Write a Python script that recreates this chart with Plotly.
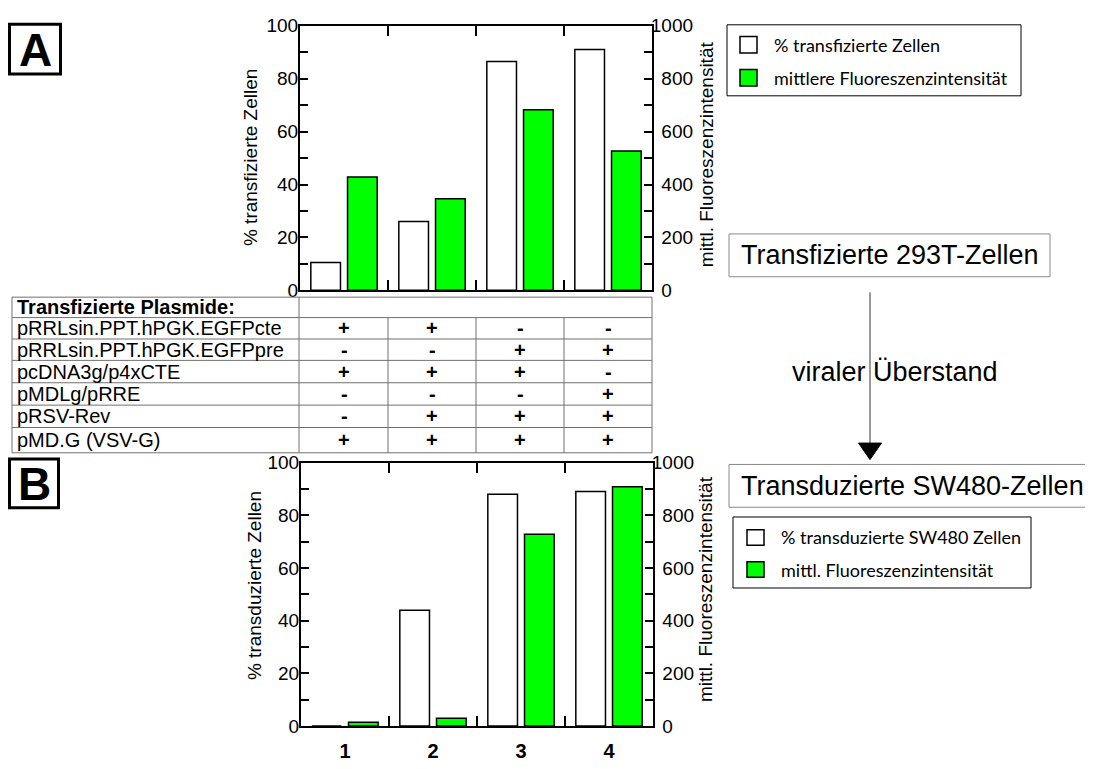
import plotly.graph_objects as go

W, H = 1093, 769
OX, OY = 8, 8          # page offset of the figure (default body margin)
FONT = "Liberation Sans"
LEG_FONT = "Lato"

# ---------------- data ----------------
categories = [1, 2, 3, 4]
category_labels = ["1", "2", "3", "4"]
transfected_pct = [10.5, 26, 86.5, 91]        # % transfizierte Zellen
transfected_mfi = [428, 346, 683, 527]        # mittlere Fluoreszenzintensität
transduced_pct = [0, 44, 88, 89]              # % transduzierte SW480 Zellen
transduced_mfi = [15, 30, 728, 908]           # mittl. Fluoreszenzintensität

pct_ticks = [0, 20, 40, 60, 80, 100]
mfi_ticks = [0, 200, 400, 600, 800, 1000]
mfi_ticktext = ["\u20070", "\u2007200", "\u2007400", "\u2007600", "\u2007800", "1000"]

plasmids = ["pRRLsin.PPT.hPGK.EGFPcte", "pRRLsin.PPT.hPGK.EGFPpre", "pcDNA3g/p4xCTE",
            "pMDLg/pRRE", "pRSV-Rev", "pMD.G (VSV-G)"]
signs = [["+", "+", "-", "-"],
         ["-", "-", "+", "+"],
         ["+", "+", "+", "-"],
         ["-", "-", "-", "+"],
         ["-", "+", "+", "+"],
         ["+", "+", "+", "+"]]

GREEN = "#00ff00"


def px(x):
    return (x - OX) / W


def py(y):
    return 1 - (y - OY) / H


BAR_W = 0.337
OFF_WHITE = -0.377
OFF_GREEN = 0.04

fig = go.Figure()
fig.add_trace(go.Bar(x=categories, y=transfected_pct, xaxis="x", yaxis="y", width=BAR_W, offset=OFF_WHITE,
                     marker=dict(color="white", line=dict(color="black", width=1.5)), name="% transfizierte Zellen"))
fig.add_trace(go.Bar(x=categories, y=transfected_mfi, xaxis="x", yaxis="y2", width=BAR_W, offset=OFF_GREEN,
                     marker=dict(color=GREEN, line=dict(color="black", width=1.5)), name="mittlere Fluoreszenzintensität"))
fig.add_trace(go.Bar(x=categories, y=transduced_pct, xaxis="x2", yaxis="y3", width=BAR_W, offset=OFF_WHITE,
                     marker=dict(color="white", line=dict(color="black", width=1.5)), name="% transduzierte SW480 Zellen"))
fig.add_trace(go.Bar(x=categories, y=transduced_mfi, xaxis="x2", yaxis="y4", width=BAR_W, offset=OFF_GREEN,
                     marker=dict(color=GREEN, line=dict(color="black", width=1.5)), name="mittl. Fluoreszenzintensität"))

tickfont = dict(family=FONT, size=19, color="black")
common_y = dict(ticks="inside", ticklen=8, tickwidth=1.5, tickcolor="black", showline=True, linecolor="black",
                linewidth=2, showgrid=False, zeroline=False, tickfont=tickfont, fixedrange=True)
minor_pct = dict(dtick=10, tick0=0, ticks="inside", ticklen=8, tickwidth=1.5, tickcolor="black")
minor_mfi = dict(dtick=100, tick0=0, ticks="inside", ticklen=8, tickwidth=1.5, tickcolor="black")

TOP_Y = (16, 288)
BOT_Y = (465, 736)

layout_axes = dict(
    xaxis=dict(domain=[px(300), px(652)], range=[0.5, 4.5], anchor="y", tickmode="array",
               tickvals=[1.5, 2.5, 3.5], ticks="inside", ticklen=10, tickwidth=1.5, tickcolor="black",
               mirror="ticks", showline=True, linecolor="black", linewidth=2, showticklabels=False,
               showgrid=False, zeroline=False, fixedrange=True),
    yaxis=dict(domain=[py(TOP_Y[1]), py(TOP_Y[0])], range=[0, 100], anchor="x", tickmode="array",
               tickvals=pct_ticks, minor=minor_pct, ticklabelstandoff=-4, **common_y),
    yaxis2=dict(overlaying="y", side="right", anchor="x", range=[0, 1000], tickmode="array",
                tickvals=mfi_ticks, ticktext=mfi_ticktext, minor=minor_mfi, ticklabelstandoff=-7, **common_y),
    xaxis2=dict(domain=[px(301), px(653)], range=[0.5, 4.5], anchor="y3", tickmode="array",
                tickvals=categories, ticktext=["<b>%s</b>" % c for c in category_labels], ticks="",
                minor=dict(tickmode="array", tickvals=[1.5, 2.5, 3.5], ticks="inside", ticklen=10,
                           tickwidth=1.5, tickcolor="black"),
                mirror="ticks", showline=True, linecolor="black", linewidth=2,
                tickfont=dict(family=FONT, size=20, color="black"), ticklabelstandoff=6,
                showgrid=False, zeroline=False, fixedrange=True),
    yaxis3=dict(domain=[py(BOT_Y[1]), py(BOT_Y[0])], range=[0, 100], anchor="x2", tickmode="array",
                tickvals=pct_ticks, minor=minor_pct, ticklabelstandoff=-4, **common_y),
    yaxis4=dict(overlaying="y3", side="right", anchor="x2", range=[0, 1000], tickmode="array",
                tickvals=mfi_ticks, ticktext=mfi_ticktext, minor=minor_mfi, ticklabelstandoff=-7, **common_y),
)

shapes = []
annotations = []


def text(x, y, s, size, bold=False, anchor="center", family=FONT, angle=0, xref="paper", color="black"):
    annotations.append(dict(x=px(x) if xref == "paper" else x, y=py(y), xref=xref, yref="paper",
                            text="<b>%s</b>" % s if bold else s, showarrow=False, xanchor=anchor,
                            yanchor="middle", textangle=angle,
                            font=dict(family=family, size=size, color=color)))


def rect(x0, y0, x1, y1, color="black", width=1, fill="rgba(0,0,0,0)"):
    shapes.append(dict(type="rect", xref="paper", yref="paper", x0=px(x0), x1=px(x1), y0=py(y0), y1=py(y1),
                       line=dict(color=color, width=width), fillcolor=fill))


def line(x0, y0, x1, y1, color="black", width=1, xref="paper"):
    shapes.append(dict(type="line", xref=xref, yref="paper",
                       x0=px(x0) if xref == "paper" else x0, x1=px(x1) if xref == "paper" else x1,
                       y0=py(y0), y1=py(y1), line=dict(color=color, width=width)))


# panel letters
rect(9.5, 14.5, 60.5, 65.5, width=3)
text(35, 41, "A", 46, bold=True)
rect(9.5, 461.5, 58.5, 511.5, width=3)
text(34, 487, "B", 46, bold=True)

# axis titles
text(250, 152, "% transfizierte Zellen", 19, angle=-90)
text(706, 148, "mittl. Fluoreszenzintensität", 19, angle=-90)
text(254, 592, "% transduzierte Zellen", 19, angle=-90)
text(706, 595, "mittl. Fluoreszenzintensität", 19, angle=-90)

# legends (manual boxes)
rect(727, 15, 1021, 88)
rect(740, 27, 757, 44, width=1.5, fill="white")
rect(740, 61, 757, 78, width=1.5, fill=GREEN)
text(772, 36, "% transfizierte Zellen", 18, anchor="left", family=LEG_FONT)
text(772, 70, "mittlere Fluoreszenzintensität", 18, anchor="left", family=LEG_FONT)

rect(733, 521, 1031, 594)
rect(747, 534, 764, 550, width=1.5, fill="white")
rect(747, 567, 764, 583, width=1.5, fill=GREEN)
text(779, 542, "% transduzierte SW480 Zellen", 18, anchor="left", family=LEG_FONT)
text(779, 576, "mittl. Fluoreszenzintensität", 18, anchor="left", family=LEG_FONT)

# cell boxes and arrow
rect(729, 230, 1050, 274, color="#8a8a8a")
text(739, 252, "Transfizierte 293T-Zellen", 27, anchor="left")
rect(729, 467, 1090, 511, color="#8a8a8a")
text(739, 489, "Transduzierte SW480-Zellen", 27, anchor="left")
line(870, 290, 870, 446, color="#333333", width=1)
shapes.append(dict(type="path", xref="paper", yref="paper",
                   path="M %f %f L %f %f L %f %f Z" % (px(858.5), py(445), px(881.5), py(445), px(870), py(462)),
                   fillcolor="black", line=dict(color="black", width=1)))
text(790, 372, "viraler Überstand", 27, anchor="left")

# table
TBL_L, TBL_R, TBL_DIV = 12, 652, 299
row_edges = [295, 316, 338, 360, 383, 406, 429, 455]
GRID = "#707070"
for yy in row_edges:
    line(TBL_L, yy, TBL_R, yy, color=GRID)
for xx in (TBL_L, TBL_DIV, TBL_R):
    line(xx, row_edges[0], xx, row_edges[-1], color=GRID)
for xv in (1.5, 2.5, 3.5):
    line(xv, row_edges[1], xv, row_edges[-1], color=GRID, xref="x")

text(15, (row_edges[0] + row_edges[1]) / 2, "Transfizierte Plasmide:", 20, bold=True, anchor="left")
for i, name in enumerate(plasmids):
    yc = (row_edges[i + 1] + row_edges[i + 2]) / 2
    text(15, yc, name, 20, anchor="left")
    for j, c in enumerate(categories):
        text(c, yc, signs[i][j], 20, bold=True, xref="x")

fig.update_layout(
    width=W, height=H, margin=dict(l=0, r=0, t=0, b=0),
    paper_bgcolor="white", plot_bgcolor="rgba(0,0,0,0)",
    showlegend=False, barmode="overlay",
    shapes=shapes, annotations=annotations,
    font=dict(family=FONT, color="black"),
    **layout_axes,
)

fig.write_html("out.html")
